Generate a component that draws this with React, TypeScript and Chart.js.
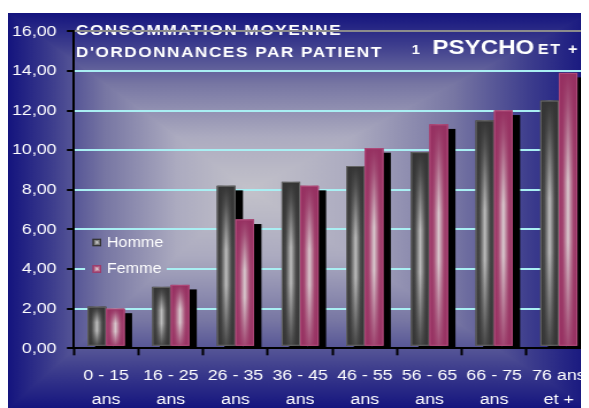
import React, { useEffect, useRef } from 'react';
import { Chart, registerables } from 'chart.js';

Chart.register(...registerables);

// ---------- data ----------
const categories: string[][] = [
  ['0 - 15', 'ans'],
  ['16 - 25', 'ans'],
  ['26 - 35', 'ans'],
  ['36 - 45', 'ans'],
  ['46 - 55', 'ans'],
  ['56 - 65', 'ans'],
  ['66 - 75', 'ans'],
  ['76 ans', 'et +'],
];
const seriesNames = ['Homme', 'Femme'];
const hommeValues = [2.1, 3.1, 8.2, 8.4, 9.2, 9.9, 11.5, 12.5];
const femmeValues = [2.0, 3.2, 6.5, 8.2, 10.1, 11.3, 12.0, 13.9];
const yTickLabels = ['0,00', '2,00', '4,00', '6,00', '8,00', '10,00', '12,00', '14,00', '16,00'];
const titleLine1 = 'CONSOMMATION MOYENNE';
const titleLine2 = "D'ORDONNANCES PAR PATIENT";
const subtitleNum = '1';
const subtitleMain = 'PSYCHO';
const subtitleTail = 'ET +';

// ---------- styling ----------
const SX = 1.15;
const W = 520;
const H = 400;
const FONT = "'Liberation Sans', Arial, sans-serif";
type Stops = [number, string][];
const bgStops: Stops = [[0, '#c3c2ca'], [0.3, '#acabc0'], [0.6, '#7776a3'], [0.82, '#3d3d8d'], [1, '#14147e']];
const hommeStops: Stops = [[0, '#c8c8c8'], [0.5, '#7c7c7c'], [1, '#353535']];
const femmeStops: Stops = [[0, '#dacdd1'], [0.5, '#b96f8f'], [1, '#983262']];
const barH: Stops[] = [
  [[0, '#343434'], [0.22, '#4a4a4a'], [0.5, '#bdbdbd'], [0.78, '#4a4a4a'], [1, '#343434']],
  [[0, '#963061'], [0.22, '#a44872'], [0.5, '#d9c9ce'], [0.78, '#a44872'], [1, '#963061']],
];
const barEdgeRgb = ['52,52,52', '150,48,97'];
const barEdge = ['#666666', '#b04a7a'];

function rectGrad(ctx: CanvasRenderingContext2D, x0: number, y0: number, x1: number, y1: number, cx: number, cy: number, stops: Stops) {
  ctx.save();
  ctx.beginPath();
  ctx.rect(x0, y0, x1 - x0, y1 - y0);
  ctx.clip();
  const e = 1;
  const tri = (pts: number[][], gx0: number, gy0: number, gx1: number, gy1: number) => {
    const g = ctx.createLinearGradient(gx0, gy0, gx1, gy1);
    stops.forEach(([o, c]) => g.addColorStop(o, c));
    ctx.beginPath();
    ctx.moveTo(pts[0][0], pts[0][1]);
    ctx.lineTo(pts[1][0], pts[1][1]);
    ctx.lineTo(pts[2][0], pts[2][1]);
    ctx.closePath();
    ctx.fillStyle = g;
    ctx.fill();
  };
  tri([[x0 - e, y0], [x1 + e, y0], [cx, cy + e]], cx, cy, cx, y0);
  tri([[x1, y0 - e], [x1, y1 + e], [cx - e, cy]], cx, cy, x1, cy);
  tri([[x1 + e, y1], [x0 - e, y1], [cx, cy - e]], cx, cy, cx, y1);
  tri([[x0, y1 + e], [x0, y0 - e], [cx + e, cy]], cx, cy, x0, cy);
  ctx.restore();
}

const BG = { x0: 0, y0: 0, x1: 507, y1: 396, cx: 210, cy: 177 };
const LEGEND = { x: 67, y: 217, w: 71, h: 60 };

const decor = {
  id: 'decor',
  beforeDraw(chart: any) {
    const ctx: CanvasRenderingContext2D = chart.ctx;
    ctx.save();
    ctx.fillStyle = '#14147e';
    ctx.fillRect(0, 0, chart.width, chart.height);
    rectGrad(ctx, BG.x0, BG.y0, BG.x1, BG.y1, BG.cx, BG.cy, bgStops);
    ctx.fillStyle = '#ffffff';
    ctx.textAlign = 'left';
    ctx.textBaseline = 'alphabetic';
    ctx.font = `bold 15px ${FONT}`;
    (ctx as any).letterSpacing = '1.3px';
    ctx.fillText(titleLine1, 59, 21.7);
    ctx.fillText(titleLine2, 59, 43.7);
    (ctx as any).letterSpacing = '0px';
    ctx.font = `bold 13px ${FONT}`;
    ctx.fillText(subtitleNum, 351, 41.3);
    ctx.font = `bold 21px ${FONT}`;
    ctx.fillText(subtitleMain, 369, 41.3);
    ctx.font = `bold 14px ${FONT}`;
    (ctx as any).letterSpacing = '1.5px';
    ctx.fillText(subtitleTail, 460.7, 41.3);
    (ctx as any).letterSpacing = '0px';
    ctx.restore();
  },
  beforeDatasetsDraw(chart: any) {
    const ctx: CanvasRenderingContext2D = chart.ctx;
    const area = chart.chartArea;
    ctx.save();
    ctx.beginPath();
    ctx.rect(LEGEND.x, LEGEND.y, LEGEND.w, LEGEND.h);
    ctx.clip();
    rectGrad(ctx, BG.x0, BG.y0, BG.x1, BG.y1, BG.cx, BG.cy, bgStops);
    ctx.restore();
    // shadows
    ctx.save();
    ctx.beginPath();
    ctx.rect(area.left, area.top, area.right - area.left + 20, area.bottom - area.top);
    ctx.clip();
    ctx.fillStyle = '#000';
    [0, 1].forEach((di) => {
      chart.getDatasetMeta(di).data.forEach((el: any) => {
        const p = el.getProps(['x', 'y', 'base', 'width'], true);
        const top = p.y + 4.5;
        ctx.fillRect(p.x - p.width / 2 + 6.5, top, p.width, area.bottom - top);
      });
    });
    ctx.restore();
  },
  afterDatasetsDraw(chart: any) {
    const ctx: CanvasRenderingContext2D = chart.ctx;
    [0, 1].forEach((di) => {
      chart.getDatasetMeta(di).data.forEach((el: any) => {
        const p = el.getProps(['x', 'y', 'base', 'width'], true);
        const x0 = p.x - p.width / 2;
        const x1 = p.x + p.width / 2;
        ctx.save();
        const gh = ctx.createLinearGradient(x0, 0, x1, 0);
        barH[di].forEach(([o, c]) => gh.addColorStop(o, c));
        ctx.fillStyle = gh;
        ctx.fillRect(x0, p.y, p.width, p.base - p.y);
        const gv = ctx.createLinearGradient(0, p.y, 0, p.base);
        const rgb = barEdgeRgb[di];
        gv.addColorStop(0, `rgba(${rgb},1)`);
        gv.addColorStop(0.12, `rgba(${rgb},0.75)`);
        gv.addColorStop(0.4, `rgba(${rgb},0)`);
        gv.addColorStop(0.62, `rgba(${rgb},0)`);
        gv.addColorStop(1, `rgba(${rgb},0.85)`);
        ctx.fillStyle = gv;
        ctx.fillRect(x0, p.y, p.width, p.base - p.y);
        ctx.strokeStyle = barEdge[di];
        ctx.lineWidth = 1;
        ctx.strokeRect(x0 + 0.5, p.y + 0.5, p.width - 1, p.base - p.y - 1);
        ctx.restore();
      });
    });
    // legend content
    ctx.save();
    const items = [
      { name: seriesNames[0], y: 229.5, stops: hommeStops, edge: '#2e2e2e' },
      { name: seriesNames[1], y: 256, stops: femmeStops, edge: '#a03868' },
    ];
    items.forEach((it) => {
      const mx = 73.5, ms = 7.5;
      rectGrad(ctx, mx, it.y - ms / 2, mx + ms, it.y + ms / 2, mx + ms / 2, it.y, it.stops);
      ctx.strokeStyle = it.edge;
      ctx.lineWidth = 1;
      ctx.strokeRect(mx + 0.5, it.y - ms / 2 + 0.5, ms - 1, ms - 1);
      ctx.fillStyle = '#ffffff';
      ctx.font = `14px ${FONT}`;
      ctx.textAlign = 'left';
      ctx.textBaseline = 'middle';
      ctx.fillText(it.name, 86, it.y + 0.5);
    });
    ctx.restore();
  },
};

export default function App() {
  const ref = useRef<HTMLCanvasElement | null>(null);
  useEffect(() => {
    if (!ref.current) return;
    const chart = new Chart(ref.current, {
      type: 'bar',
      data: {
        labels: categories as any,
        datasets: [
          {
            label: seriesNames[0],
            data: hommeValues,
            backgroundColor: '#7c7c7c',
            base: 0.13,
            barPercentage: 1,
            categoryPercentage: 0.572,
          } as any,
          {
            label: seriesNames[1],
            data: femmeValues,
            backgroundColor: '#b96f8f',
            base: 0.13,
            barPercentage: 1,
            categoryPercentage: 0.572,
          } as any,
        ],
      },
      options: {
        responsive: false,
        animation: false,
        devicePixelRatio: 1,
        layout: { padding: { top: 15.5, left: 0, right: W - 507.1, bottom: 0 } },
        plugins: { legend: { display: false }, tooltip: { enabled: false }, title: { display: false } },
        scales: {
          x: {
            offset: true,
            grid: {
              display: true,
              drawOnChartArea: false,
              drawTicks: true,
              tickLength: 7,
              tickColor: '#000',
              tickWidth: 2,
              offset: true,
            },
            border: { display: true, color: '#000', width: 2, z: 1 } as any,
            ticks: {
              color: '#ffffff',
              font: { family: FONT, size: 15.5, lineHeight: 1.52 },
              padding: 9,
              maxRotation: 0,
              autoSkip: false,
            },
            afterFit: (s: any) => {
              s.height = H - 335.3;
            },
          },
          y: {
            min: 0,
            max: 16,
            ticks: {
              stepSize: 2,
              color: '#ffffff',
              font: { family: FONT, size: 15.5 },
              padding: 9,
              callback: (v: any) => yTickLabels[Math.round(Number(v) / 2)],
            },
            grid: {
              color: (c: any) =>
                c.tick && c.tick.value === 16 ? '#8c8c8c' : c.tick && c.tick.value === 0 ? 'rgba(0,0,0,0)' : '#a9eff3',
              lineWidth: 2,
              drawTicks: true,
              tickLength: 6,
              tickColor: '#000',
              tickWidth: 2,
            },
            border: { display: true, color: '#000', width: 2, z: 1 } as any,
            afterFit: (s: any) => {
              s.width = 57.2;
            },
          },
        },
      },
      plugins: [decor],
    });
    return () => chart.destroy();
  }, []);
  return (
    <div style={{ paddingTop: 5 }}>
      <div style={{ position: 'relative', width: 581, height: 395, overflow: 'hidden' }}>
        <canvas
          ref={ref}
          width={W}
          height={H}
          style={{ transform: `scaleX(${SX})`, transformOrigin: '0 0', display: 'block' }}
        />
      </div>
    </div>
  );
}
